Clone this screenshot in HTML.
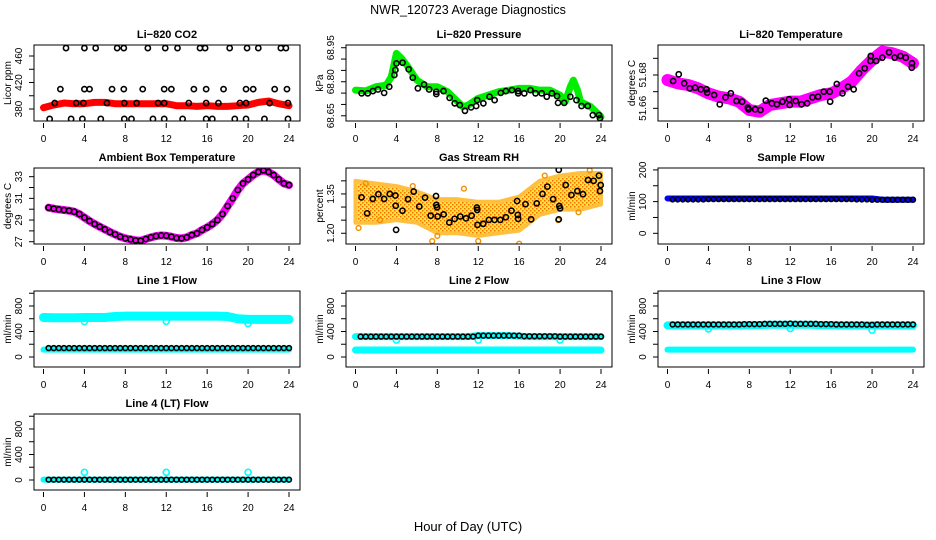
<!DOCTYPE html>
<html><head><meta charset="utf-8"><style>
html,body{margin:0;padding:0;background:#fff;}
svg{display:block;font-family:"Liberation Sans",sans-serif;}
</style></head><body>
<svg id="chart" width="936" height="540" viewBox="0 0 936 540" xmlns="http://www.w3.org/2000/svg">
<defs>
<pattern id="rhpat" width="4" height="4" patternUnits="userSpaceOnUse">
<rect width="4" height="4" fill="#ffe040"/><rect x="0" y="0" width="1.5" height="1.5" fill="#f07000"/><rect x="2" y="2" width="1.5" height="1.5" fill="#f07000"/>
</pattern>
</defs>
<text x="468" y="14" text-anchor="middle" font-size="12.5">NWR_120723  Average Diagnostics</text>
<text x="468" y="531" text-anchor="middle" font-size="13">Hour of Day (UTC)</text>
</svg>
<script>
// ---- data ----
const H48 = [0.5,1,1.5,2,2.5,3,3.5,4,4.5,5,5.5,6,6.5,7,7.5,8,8.5,9,9.5,10,10.5,11,11.5,12,12.5,13,13.5,14,14.5,15,15.5,16,16.5,17,17.5,18,18.5,19,19.5,20,20.5,21,21.5,22,22.5,23,23.5,24];
const H25 = [0,1,2,3,4,5,6,7,8,9,10,11,12,13,14,15,16,17,18,19,20,21,22,23,24];
const xTicks = [0,4,8,12,16,20,24];

const co2Red = [382,386,389,388,388,390,390,388,388,388,388,388,388,385,385,384,385,384,384,385,386,390,392,388,385];
const co2Hours = [2.2,4.0,5.1,7.2,7.85,10.2,11.9,13.1,15.3,15.8,18.2,19.9,21.0,23.2,23.7, 1.65,4.0,4.5,6.7,7.85,9.7,11.8,12.5,14.7,15.9,17.6,19.8,20.5,22.6,23.8, 1.1,3.2,3.9,6.2,7.9,9.1,11.2,11.8,14.2,15.9,17.1,19.2,19.8,22.1,23.9, 0.6,2.7,3.8,5.6,7.9,8.6,10.7,11.8,13.6,15.9,16.5,18.7,19.8,21.6,23.9];
const co2Vals = [472,472,472,472,472,472,472,472,472,472,472,472,472,472,472, 410,410,410,410,410,410,410,410,410,410,410,410,410,410,410, 389,389,389,389,389,389,389,389,389,389,389,389,389,389,389, 365,365,365,365,365,365,365,365,365,365,365,365,365,365,365];

const presGreenHours = [0,1,2,3,3.5,4,4.5,5,6,7,8,9,10,10.5,11,12,13,14,15,16,17,18,19,20,20.5,21,21.3,21.7,22,23,24];
const presGreen = [68.763,68.760,68.778,68.785,68.822,68.925,68.903,68.874,68.807,68.778,68.778,68.756,68.712,68.690,68.697,68.727,68.741,68.756,68.763,68.771,68.771,68.763,68.763,68.741,68.712,68.778,68.807,68.763,68.712,68.690,68.646];
const presHours = [0.6,1.2,1.7,2.2,2.8,3.3,3.8,3.9,4.0,4.6,5.2,5.6,6.1,6.7,7.2,7.9,7.9,8.6,9.2,9.7,10.2,10.7,11.3,11.8,11.9,12.5,13.1,13.6,14.2,14.7,15.3,15.9,15.9,16.5,17.1,17.6,18.2,18.7,19.2,19.7,19.8,20.4,21.0,21.6,22.1,22.7,23.2,23.8,23.9];
const presVals = [68.749,68.749,68.759,68.766,68.751,68.778,68.830,68.852,68.881,68.884,68.855,68.818,68.771,68.788,68.766,68.756,68.746,68.759,68.729,68.705,68.697,68.672,68.687,68.693,68.719,68.705,68.734,68.719,68.751,68.759,68.763,68.759,68.749,68.749,68.763,68.749,68.749,68.734,68.749,68.737,68.707,68.707,68.734,68.719,68.693,68.693,68.653,68.653,68.639];

const tempMagenta = [51.677,51.675,51.674,51.672,51.669,51.667,51.666,51.664,51.659,51.658,51.662,51.663,51.664,51.664,51.666,51.668,51.669,51.672,51.676,51.683,51.689,51.694,51.693,51.691,51.687];
const tempHours = [0.55,1.1,1.63,2.18,2.7,3.26,3.81,3.88,4.56,5.11,5.67,6.19,6.74,7.3,7.85,7.92,8.57,9.09,9.61,10.2,10.7,11.24,11.89,11.95,12.54,13.1,13.65,14.17,14.72,15.28,15.86,15.9,16.55,17.1,17.65,18.2,18.73,19.28,19.84,19.87,20.4,21.0,21.66,22.2,22.77,23.29,23.9,23.88];
const tempVals = [51.6764,51.6804,51.675,51.672,51.6724,51.6714,51.6714,51.6694,51.668,51.6624,51.6666,51.669,51.6644,51.664,51.6604,51.6594,51.6594,51.659,51.6646,51.663,51.6624,51.664,51.6654,51.662,51.6644,51.6624,51.663,51.6666,51.667,51.67,51.67,51.664,51.6746,51.669,51.673,51.6714,51.681,51.684,51.6884,51.6914,51.6884,51.6904,51.6936,51.6904,51.6914,51.6904,51.687,51.6844];

const ambVals = [30.14,30.05,29.98,29.92,29.86,29.77,29.55,29.22,28.91,28.63,28.38,28.14,27.89,27.68,27.46,27.31,27.22,27.12,27.09,27.25,27.40,27.52,27.58,27.55,27.46,27.34,27.31,27.40,27.62,27.77,28.08,28.32,28.63,29.00,29.55,30.29,31.00,31.77,32.38,32.75,33.15,33.43,33.58,33.43,33.15,32.75,32.38,32.23];

const rhBandHours = [0,2,4,6,8,10,12,14,16,18,20,22,24];
const rhHigh = [1.40,1.39,1.38,1.36,1.33,1.33,1.32,1.32,1.34,1.40,1.42,1.43,1.43];
const rhLow = [1.24,1.24,1.25,1.24,1.20,1.20,1.19,1.20,1.21,1.27,1.29,1.29,1.31];
const rhOutHours = [0.3,1.0,2.4,5.6,7.5,8.0,10.6,12.0,16.0,18.5,19.8,21.8,22.9];
const rhOutVals = [1.22,1.39,1.25,1.38,1.17,1.19,1.37,1.17,1.16,1.42,1.25,1.28,1.44];
const rhHours = [0.59,1.14,1.69,2.24,2.80,3.35,3.90,3.93,3.97,4.59,5.14,5.69,6.24,6.80,7.35,7.87,7.90,7.97,8.03,8.62,9.17,9.69,10.24,10.80,11.35,11.87,11.90,11.93,12.49,13.04,13.59,14.15,14.70,15.25,15.80,15.87,15.90,16.62,17.17,17.72,18.28,18.76,19.32,19.87,19.87,19.93,20.0,20.55,21.11,21.69,22.24,22.73,23.28,23.80,23.90,23.97];
const rhVals = [1.337,1.276,1.331,1.349,1.331,1.350,1.344,1.305,1.213,1.286,1.330,1.359,1.302,1.336,1.267,1.342,1.308,1.299,1.264,1.272,1.241,1.255,1.264,1.257,1.267,1.298,1.289,1.232,1.236,1.251,1.251,1.251,1.261,1.286,1.323,1.270,1.255,1.311,1.253,1.314,1.350,1.378,1.330,1.442,1.253,1.304,1.295,1.384,1.346,1.361,1.349,1.403,1.400,1.420,1.361,1.384];

const sampleBlue = [110,110,110,110,110,110,110,110,110,110,110,110,110,110,110,110,110,110,110,110,110,106,106,106,106];
const sampleBlack = [107,107,107,107,107,107,107,108,108,108,108,108,108,108,108,108,108,108,108,108,108,108,108,108,108,108,108,108,108,108,108,108,108,108,108,108,107,107,107,106,106,106,106,106,106,106,106,106];

const l1CyanHi = [620,615,615,615,620,620,620,635,640,640,640,640,640,640,640,640,640,640,635,600,590,590,590,590,590];
const l1CyanLo = [115,115,115,115,115,115,115,115,115,115,115,115,115,115,115,115,115,115,115,115,115,115,115,115,115];
const l1Black = [140,140,140,140,140,140,140,140,140,140,140,140,140,140,140,140,140,140,140,140,140,140,140,140,140,140,140,140,140,140,140,140,140,140,140,140,140,140,140,140,140,140,140,140,140,140,140,140];
const l1OutHours = [4,12,20];
const l1OutVals = [555,560,525];

const l2CyanHi = [320,320,320,320,320,320,320,320,320,320,320,320,335,335,335,335,325,320,320,320,320,320,320,320,320];
const l2CyanLo = [110,110,110,110,110,110,110,110,110,110,110,110,110,110,110,110,110,110,110,110,110,110,110,110,110];
const l2Black = [320,320,320,320,320,320,320,320,320,320,320,320,320,320,320,320,320,320,320,320,320,320,320,335,335,335,335,335,335,335,335,335,325,325,325,325,325,325,325,320,320,320,320,320,320,320,320,320];
const l2OutHours = [4,12,20];
const l2OutVals = [265,265,265];

const l3CyanHi = [495,495,495,495,495,495,495,495,500,500,505,505,505,505,505,500,500,495,495,495,495,495,495,495,495];
const l3CyanLo = [115,115,115,115,115,115,115,115,115,115,115,115,115,115,115,115,115,115,115,115,115,115,115,115,115];
const l3Black = [510,510,510,510,510,510,510,510,510,510,510,510,510,510,515,515,515,515,520,520,520,520,520,525,520,520,520,520,520,515,515,515,510,510,510,510,510,510,505,505,510,510,510,510,510,510,510,510];
const l3OutHours = [4,12,20];
const l3OutVals = [440,445,420];

const l4Cyan = [5,5,5,5,5,5,5,5,5,5,5,5,5,5,5,5,5,5,5,5,5,5,5,5,5];
const l4Black = [5,5,5,5,5,5,5,5,5,5,5,5,5,5,5,5,5,5,5,5,5,5,5,5,5,5,5,5,5,5,5,5,5,5,5,5,5,5,5,5,5,5,5,5,5,5,5,5];
const l4OutHours = [4,12,20];
const l4OutVals = [120,120,120];

// ---- drawing ----
const NS = "http://www.w3.org/2000/svg";
const svg = document.getElementById('chart');
function mk(tag, parent){ const e = document.createElementNS(NS, tag); parent.appendChild(e); return e; }

function makePanel(c, r, key, title, ylab, lo, hi, ticks, labels){
  const g = mk('g', svg);
  
  
  const bx0 = c*312+34, bx1 = c*312+300, by0 = r*123+45, by1 = r*123+121;
  const X = h => c*312 + 43.5 + h*245.5/24;
  const Y = v => by1 - (v-lo)/(hi-lo)*(by1-by0);
  const t = mk('text', g);
  
  
  t.setAttribute('x', (bx0+bx1)/2); t.setAttribute('y', r*123+38);
  t.setAttribute('text-anchor', 'middle'); t.setAttribute('font-size', '11'); t.setAttribute('font-weight', 'bold');
  t.textContent = title;
  const yl = mk('text', g);
  
  
  yl.setAttribute('transform', 'translate(' + (c*312+11) + ',' + ((by0+by1)/2) + ') rotate(-90)');
  yl.setAttribute('text-anchor', 'middle'); yl.setAttribute('font-size', '10');
  yl.textContent = ylab;
  xTicks.forEach(h => {
    const l = mk('line', g);
    
    
    l.setAttribute('x1', X(h)); l.setAttribute('x2', X(h)); l.setAttribute('y1', by1+2); l.setAttribute('y2', by1+7);
    l.setAttribute('stroke', '#000');
    const tx = mk('text', g);
    
    
    tx.setAttribute('x', X(h)); tx.setAttribute('y', by1+21); tx.setAttribute('text-anchor', 'middle'); tx.setAttribute('font-size', '10');
    tx.textContent = h;
  });
  ticks.forEach(v => {
    const l = mk('line', g);
    
    
    l.setAttribute('x1', bx0-5); l.setAttribute('x2', bx0); l.setAttribute('y1', Y(v)); l.setAttribute('y2', Y(v));
    l.setAttribute('stroke', '#000');
  });
  labels.forEach(s => {
    const tx = mk('text', g);
    
    
    tx.setAttribute('transform', 'translate(' + (c*312+22) + ',' + Y(parseFloat(s)) + ') rotate(-90)');
    tx.setAttribute('text-anchor', 'middle'); tx.setAttribute('font-size', '10');
    tx.textContent = s;
  });
  const plot = mk('g', g);
  
  
  const clipId = 'clip-' + key;
  const cp = mk('clipPath', svg); cp.setAttribute('id', clipId);
  const cr = mk('rect', cp); cr.setAttribute('x', bx0); cr.setAttribute('y', by0); cr.setAttribute('width', bx1-bx0); cr.setAttribute('height', by1-by0);
  plot.setAttribute('clip-path', 'url(#' + clipId + ')');
  const box = mk('rect', g);
  
  
  box.setAttribute('x', bx0); box.setAttribute('y', by0); box.setAttribute('width', bx1-bx0); box.setAttribute('height', by1-by0);
  box.setAttribute('fill', 'none'); box.setAttribute('stroke', '#000');
  return {X, Y, plot, key, box, g};
}

function band(p, hours, vals, color, width, name){
  const pl = mk('polyline', p.plot);
  
  
  pl.setAttribute('points', hours.map((h,i) => p.X(h) + ',' + p.Y(vals[i])).join(' '));
  pl.setAttribute('fill', 'none'); pl.setAttribute('stroke', color); pl.setAttribute('stroke-width', width);
  pl.setAttribute('stroke-linejoin', 'round'); pl.setAttribute('stroke-linecap', 'round');
}
function points(p, hours, vals, color, r, sw, name){
  hours.forEach((h,i) => {
    const ci = mk('circle', p.plot);
    
    
    ci.setAttribute('cx', p.X(h)); ci.setAttribute('cy', p.Y(vals[i])); ci.setAttribute('r', r);
    ci.setAttribute('fill', 'none'); ci.setAttribute('stroke', color); ci.setAttribute('stroke-width', sw);
  });
}

let p = makePanel(0,0,'co2','Li\u2212820 CO2','Licor ppm',361.9,476.6,[380,400,420,440,460],['380','420','460']);
band(p, H25, co2Red, '#ff0000', 7, 'co2-red-series');
points(p, co2Hours, co2Vals, '#000', 2.6, 1.6, 'co2-point');

p = makePanel(1,0,'pressure','Li\u2212820 Pressure','kPa',68.627,68.962,[68.65,68.70,68.75,68.80,68.85,68.90,68.95],['68.65','68.80','68.95']);
band(p, presGreenHours, presGreen, '#00ee00', 7, 'pressure-green-series');
points(p, presHours, presVals, '#000', 2.6, 1.6, 'pressure-point');

p = makePanel(2,0,'li820-temp','Li\u2212820 Temperature','degrees C',51.6524,51.698,[51.66,51.67,51.68,51.69],['51.66','51.68']);
band(p, H25, tempMagenta, '#ff00ff', 12, 'temp-magenta-series');
points(p, tempHours, tempVals, '#000', 2.6, 1.6, 'temp-point');

p = makePanel(0,1,'ambient','Ambient Box Temperature','degrees C',26.79,33.80,[27,28,29,30,31,32,33],['27','29','31','33']);
band(p, H48, ambVals, '#ff00ff', 8, 'ambient-magenta-series');
points(p, H48, ambVals, '#000', 2.6, 1.6, 'ambient-point');

p = makePanel(1,1,'rh','Gas Stream RH','percent',1.159,1.449,[1.20,1.25,1.30,1.35,1.40],['1.20','1.35']);
{
  const pg = mk('polygon', p.plot);
  
  
  const up = rhBandHours.map((h,i) => p.X(h) + ',' + p.Y(rhHigh[i]));
  const dn = rhBandHours.map((h,i) => p.X(h) + ',' + p.Y(rhLow[i])).reverse();
  pg.setAttribute('points', up.concat(dn).join(' '));
  pg.setAttribute('fill', 'url(#rhpat)'); pg.setAttribute('stroke', '#ffc040'); pg.setAttribute('stroke-width', 4); pg.setAttribute('stroke-linejoin', 'round');
}
points(p, rhOutHours, rhOutVals, '#f09000', 2.4, 1.4, 'rh-orange-point');
points(p, rhHours, rhVals, '#000', 2.6, 1.6, 'rh-point');

p = makePanel(2,1,'sample-flow','Sample Flow','ml/min',-33.7,206,[0,50,100,150,200],['0','100','200']);
band(p, H25, sampleBlue, '#0000ff', 6, 'sample-blue-series');
points(p, H48, sampleBlack, '#000', 2.4, 1.6, 'sample-point');

const flowTicks = [0,200,400,600,800,1000], flowLabels = ['0','400','800'];
p = makePanel(0,2,'line1','Line 1 Flow','ml/min',-157,1035,flowTicks,flowLabels);
band(p, H25, l1CyanHi, '#00ffff', 9, 'line1-cyan-high');
band(p, H25, l1CyanLo, '#00ffff', 6, 'line1-cyan-low');
points(p, l1OutHours, l1OutVals, '#00ffff', 3, 1.6, 'line1-cyan-outlier');
points(p, H48, l1Black, '#000', 2.4, 1.6, 'line1-point');
p = makePanel(1,2,'line2','Line 2 Flow','ml/min',-157,1035,flowTicks,flowLabels);
band(p, H25, l2CyanHi, '#00ffff', 7, 'line2-cyan-high');
band(p, H25, l2CyanLo, '#00ffff', 7, 'line2-cyan-low');
points(p, l2OutHours, l2OutVals, '#00ffff', 3, 1.6, 'line2-cyan-outlier');
points(p, H48, l2Black, '#000', 2.4, 1.6, 'line2-point');
p = makePanel(2,2,'line3','Line 3 Flow','ml/min',-157,1035,flowTicks,flowLabels);
band(p, H25, l3CyanHi, '#00ffff', 8, 'line3-cyan-high');
band(p, H25, l3CyanLo, '#00ffff', 6, 'line3-cyan-low');
points(p, l3OutHours, l3OutVals, '#00ffff', 3, 1.6, 'line3-cyan-outlier');
points(p, H48, l3Black, '#000', 2.4, 1.6, 'line3-point');
p = makePanel(0,3,'line4','Line 4 (LT) Flow','ml/min',-157,1035,flowTicks,flowLabels);
band(p, H25, l4Cyan, '#00ffff', 6, 'line4-cyan-series');
points(p, l4OutHours, l4OutVals, '#00ffff', 3, 1.6, 'line4-cyan-outlier');
points(p, H48, l4Black, '#000', 2.4, 1.6, 'line4-point');
</script>
</body></html>
